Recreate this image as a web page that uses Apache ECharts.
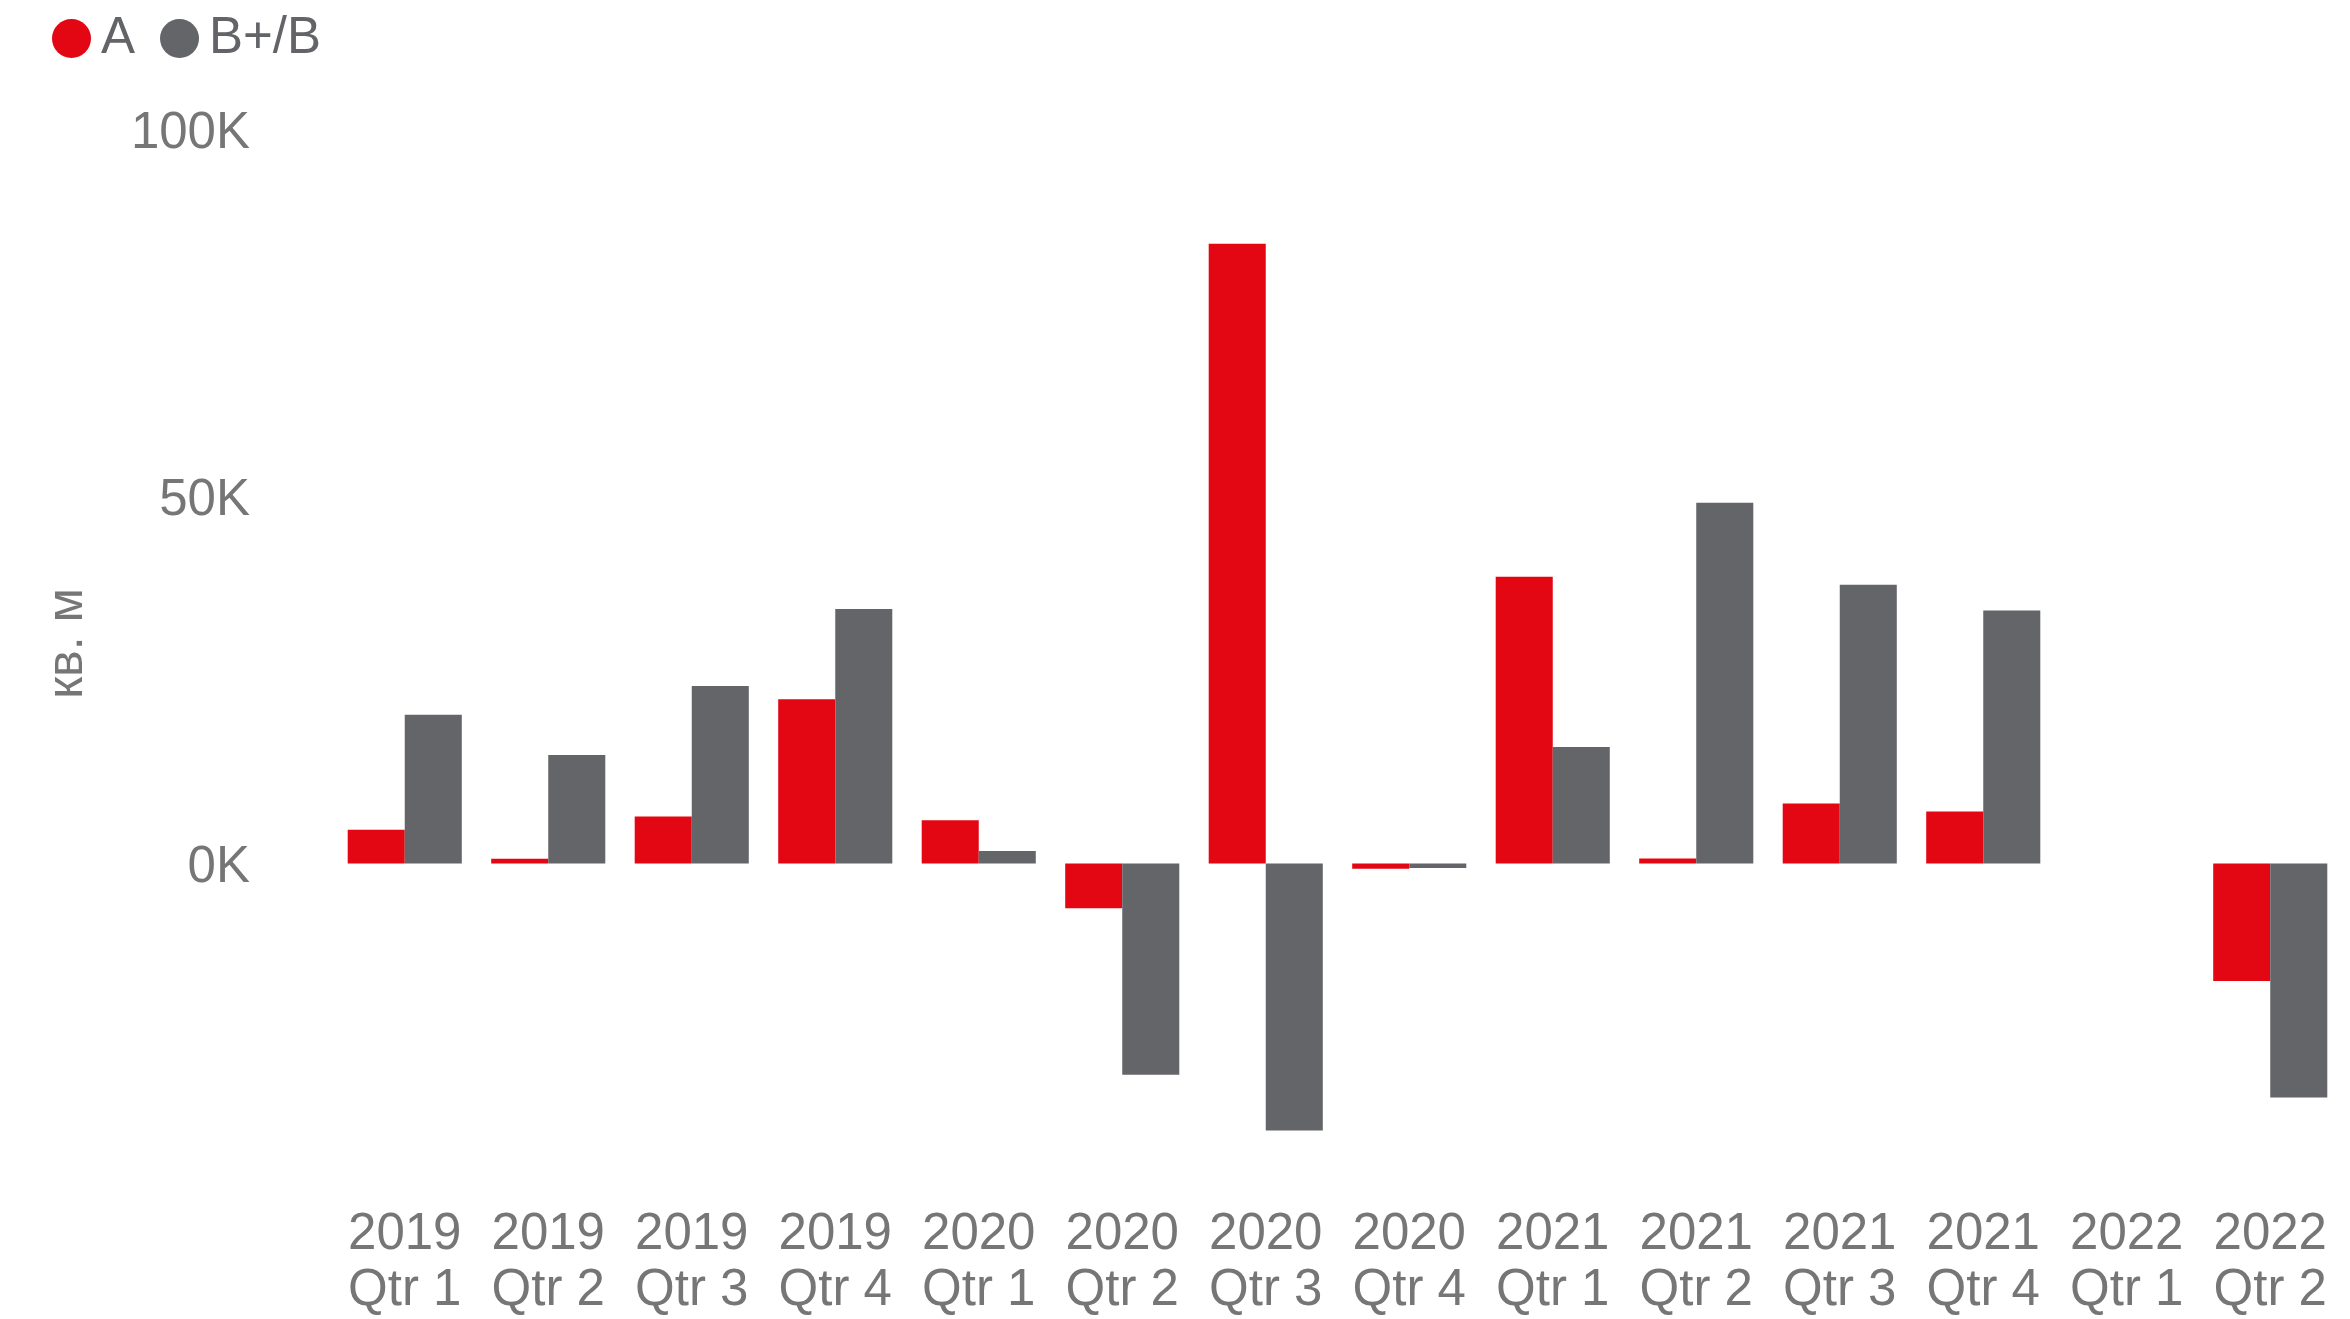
<!DOCTYPE html>
<html>
<head>
<meta charset="utf-8">
<script src="https://cdn.jsdelivr.net/npm/echarts@6/dist/echarts.min.js"></script>
<style>
  html, body { margin: 0; padding: 0; background: #fff; }
  #chart { width: 2350px; height: 1319px; }
</style>
</head>
<body>
<div id="chart"></div>
<script>
const categories = [
  '2019\nQtr 1', '2019\nQtr 2', '2019\nQtr 3', '2019\nQtr 4',
  '2020\nQtr 1', '2020\nQtr 2', '2020\nQtr 3', '2020\nQtr 4',
  '2021\nQtr 1', '2021\nQtr 2', '2021\nQtr 3', '2021\nQtr 4',
  '2022\nQtr 1', '2022\nQtr 2'
]
// кв. м
const classA = [4600, 650, 6400, 22400, 5900, -6100, 84500, -700, 39100, 700, 8200, 7100, null, -16000]
const classB = [20300, 14800, 24200, 34700, 1700, -28800, -36400, -600, 15900, 49200, 38000, 34500, null, -31900]
const yTicks = [0, 50000, 100000]
const yTickLabels = ['0K', '50K', '100K']

const chart = echarts.init(document.getElementById('chart'))

const labelColor = '#767676'
const font = 'Liberation Sans, Arial, sans-serif'

const option = {
  backgroundColor: '#fff',
  animation: false,
  color: ['#E30613', '#646569'],
  legend: {
    left: 47,
    top: 8,
    icon: 'circle',
    itemWidth: 39,
    itemHeight: 39,
    itemGap: 25,
    textStyle: {
      fontFamily: font,
      fontSize: 51,
      color: '#636468',
      padding: [0, 0, 0, 5]
    },
    data: ['A', 'B+/B']
  },
  grid: {
    left: 333,
    right: 8,
    top: 130,
    bottom: 161
  },
  xAxis: {
    type: 'category',
    data: categories,
    axisLine: { show: false, onZero: false },
    axisTick: { show: false },
    axisLabel: {
      interval: 0,
      margin: 50,
      color: labelColor,
      fontFamily: font,
      fontSize: 51,
      lineHeight: 56
    }
  },
  yAxis: {
    type: 'value',
    min: -40000,
    max: 100000,
    interval: 10000,
    name: 'кв. м',
    nameLocation: 'middle',
    nameGap: 240,
    nameTextStyle: {
      color: labelColor,
      fontFamily: font,
      fontSize: 50
    },
    splitLine: { show: false },
    axisLine: { show: false },
    axisTick: { show: false },
    axisLabel: {
      margin: 83,
      verticalAlign: 'top',
      lineHeight: 8,
      color: labelColor,
      fontFamily: font,
      fontSize: 51,
      formatter: function (v) {
        const i = yTicks.indexOf(v)
        return i >= 0 ? yTickLabels[i] : ''
      }
    }
  },
  series: [{
    name: 'A',
    type: 'bar',
    data: classA,
    barGap: '0%',
    barCategoryGap: '20.5%'
  }, {
    name: 'B+/B',
    type: 'bar',
    data: classB,
    barGap: '0%',
    barCategoryGap: '20.5%'
  }]
}

chart.setOption(option)
</script>
</body>
</html>
